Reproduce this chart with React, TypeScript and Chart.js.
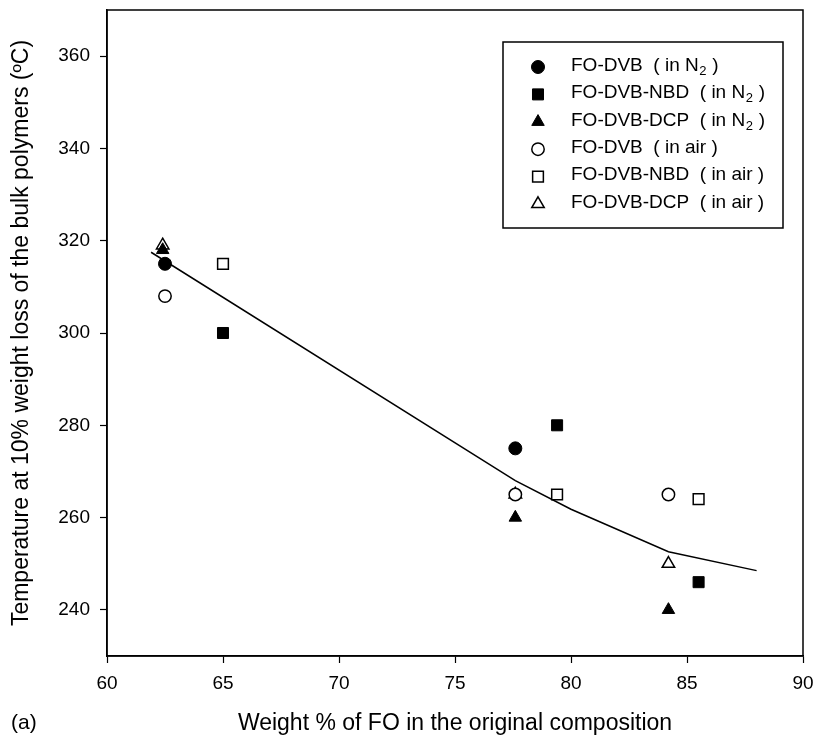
import React, { useEffect, useRef } from 'react';
import { Chart, registerables } from 'chart.js';

Chart.register(...registerables);

// ---- data ----
const xTicks = [60, 65, 70, 75, 80, 85, 90];
const yTicks = [240, 260, 280, 300, 320, 340, 360];
const xMin = 60;
const xMax = 90;
const yMin = 230;
const yMax = 370;

const xTitle = 'Weight % of FO in the original composition';
const yTitle = 'Temperature at 10% weight loss of the bulk polymers (\u00BAC)';
const panelLabel = '(a)';

const seriesLabels = [
  'FO-DVB  ( in N_2 )',
  'FO-DVB-NBD  ( in N_2 )',
  'FO-DVB-DCP  ( in N_2 )',
  'FO-DVB  ( in air )',
  'FO-DVB-NBD  ( in air )',
  'FO-DVB-DCP  ( in air )',
];

const n2DvbX = [62.5, 77.6];
const n2DvbY = [315, 275];
const n2NbdX = [65, 79.4, 85.5];
const n2NbdY = [300, 280, 246];
const n2DcpX = [62.4, 77.6, 84.2];
const n2DcpY = [318, 260, 240];
const airDvbX = [62.5, 77.6, 84.2];
const airDvbY = [308, 265, 265];
const airNbdX = [65, 79.4, 85.5];
const airNbdY = [315, 265, 264];
const airDcpX = [62.4, 77.6, 84.2];
const airDcpY = [319, 265, 250];

const fitX = [61.9, 77.6, 80, 84.2, 88];
const fitY = [317.5, 268, 261.8, 252.6, 248.5];

// ---- styles ----
const FONT = '"Liberation Sans", Arial, Helvetica, sans-serif';
const zip = (xs: number[], ys: number[]) => xs.map((x, i) => ({ x, y: ys[i] }));

const markerStyles = [
  { style: 'circle', fill: '#000', r: 6.5 },
  { style: 'rect', fill: '#000', r: 7.8 },
  { style: 'triangle', fill: '#000', r: 7.2 },
  { style: 'circle', fill: '#fff', r: 6.2 },
  { style: 'rect', fill: '#fff', r: 7.6 },
  { style: 'triangle', fill: '#fff', r: 7.2 },
];

function drawMarker(ctx: CanvasRenderingContext2D, style: string, x: number, y: number, r: number, fill: string) {
  ctx.beginPath();
  if (style === 'circle') {
    ctx.arc(x, y, r, 0, Math.PI * 2);
  } else if (style === 'rect') {
    const s = r * Math.SQRT1_2;
    ctx.rect(x - s, y - s, 2 * s, 2 * s);
  } else {
    let rad = 0;
    ctx.moveTo(x + Math.sin(rad) * r, y - Math.cos(rad) * r);
    rad += (2 * Math.PI) / 3;
    ctx.lineTo(x + Math.sin(rad) * r, y - Math.cos(rad) * r);
    rad += (2 * Math.PI) / 3;
    ctx.lineTo(x + Math.sin(rad) * r, y - Math.cos(rad) * r);
    ctx.closePath();
  }
  ctx.fillStyle = fill;
  ctx.fill();
  ctx.lineWidth = fill === '#000' ? 1 : 1.5;
  ctx.strokeStyle = '#000';
  ctx.stroke();
}

const framePlugin = {
  id: 'frameAndLegend',
  afterDraw(chart: any) {
    const { ctx, chartArea: a } = chart;
    ctx.save();
    ctx.strokeStyle = '#000';
    ctx.lineWidth = 1.5;
    ctx.strokeRect(a.left, a.top, a.right - a.left, a.bottom - a.top);

    // legend box
    const bw = 280;
    const bh = 186;
    const bx = a.right - 20 - bw;
    const by = a.top + 32;
    ctx.lineWidth = 1.5;
    ctx.strokeRect(bx, by, bw, bh);

    const mainFont = `19px ${FONT}`;
    const subFont = `13px ${FONT}`;
    ctx.textBaseline = 'middle';
    ctx.textAlign = 'left';
    seriesLabels.forEach((label, i) => {
      const y = by + 23.5 + i * 27.4;
      const m = markerStyles[i];
      drawMarker(ctx, m.style, bx + 35, y + 1.5, m.r, m.fill);
      let x = bx + 68;
      ctx.fillStyle = '#000';
      const idx = label.indexOf('_');
      if (idx < 0) {
        ctx.font = mainFont;
        ctx.fillText(label, x, y);
      } else {
        const before = label.slice(0, idx);
        const sub = label.charAt(idx + 1);
        const after = label.slice(idx + 2);
        ctx.font = mainFont;
        ctx.fillText(before, x, y);
        x += ctx.measureText(before).width;
        ctx.font = subFont;
        ctx.fillText(sub, x + 0.5, y + 6);
        x += ctx.measureText(sub).width + 1;
        ctx.font = mainFont;
        ctx.fillText(after, x, y);
      }
    });

    // panel label
    ctx.font = `21px ${FONT}`;
    ctx.fillStyle = '#000';
    ctx.textBaseline = 'middle';
    ctx.fillText(panelLabel, 11, 723);
    ctx.restore();
  },
};

export default function App() {
  const ref = useRef<HTMLCanvasElement | null>(null);

  useEffect(() => {
    if (!ref.current) return;
    const datasets: any[] = [
      [n2DvbX, n2DvbY],
      [n2NbdX, n2NbdY],
      [n2DcpX, n2DcpY],
      [airDvbX, airDvbY],
      [airNbdX, airNbdY],
      [airDcpX, airDcpY],
    ].map(([xs, ys], i) => ({
      label: seriesLabels[i].replace('_2', '\u2082'),
      data: zip(xs, ys),
      pointStyle: markerStyles[i].style,
      pointRadius: markerStyles[i].r,
      pointHoverRadius: markerStyles[i].r,
      backgroundColor: markerStyles[i].fill,
      borderColor: '#000',
      pointBorderWidth: markerStyles[i].fill === '#000' ? 1 : 1.5,
      showLine: false,
      order: i,
    }));
    datasets.push({
      label: 'fit',
      data: zip(fitX, fitY),
      showLine: true,
      pointRadius: 0,
      borderColor: '#000',
      borderWidth: 1.5,
      tension: 0,
      fill: false,
      order: 10,
    });

    const tickFont = { family: FONT, size: 19 };
    const titleFont = { family: FONT, size: 23 };

    const chart = new Chart(ref.current, {
      type: 'scatter',
      data: { datasets },
      plugins: [framePlugin],
      options: {
        animation: false,
        responsive: false,
        devicePixelRatio: 1,
        layout: { padding: { top: 10, right: 12, bottom: 0, left: 0 } },
        plugins: { legend: { display: false }, tooltip: { enabled: false } },
        scales: {
          x: {
            type: 'linear',
            min: xMin,
            max: xMax,
            afterBuildTicks: (axis: any) => {
              axis.ticks = xTicks.map((v) => ({ value: v }));
            },
            afterFit: (axis: any) => {
              axis.height = 84;
              axis.paddingLeft = 0;
              axis.paddingRight = 0;
            },
            ticks: {
              color: '#000',
              font: tickFont,
              padding: 9,
              maxRotation: 0,
              autoSkip: false,
            },
            grid: {
              drawOnChartArea: false,
              drawTicks: true,
              tickLength: 7,
              tickColor: '#000',
              tickWidth: 1.2,
            },
            border: { display: true, color: '#000', width: 1.5 },
            title: {
              display: true,
              text: xTitle,
              color: '#000',
              font: titleFont,
              padding: { top: 0, bottom: 3 },
            },
          },
          y: {
            type: 'linear',
            min: yMin,
            max: yMax,
            afterBuildTicks: (axis: any) => {
              axis.ticks = yTicks.map((v) => ({ value: v }));
            },
            afterFit: (axis: any) => {
              axis.width = 107;
              axis.paddingTop = 0;
              axis.paddingBottom = 0;
            },
            ticks: {
              color: '#000',
              font: tickFont,
              padding: 10,
            },
            grid: {
              drawOnChartArea: false,
              drawTicks: true,
              tickLength: 7,
              tickColor: '#000',
              tickWidth: 1.2,
            },
            border: { display: true, color: '#000', width: 1.5 },
            title: {
              display: true,
              text: yTitle,
              color: '#000',
              font: titleFont,
              padding: { top: 8, bottom: 0 },
            },
          },
        },
      } as any,
    });
    return () => chart.destroy();
  }, []);

  return (
    <div style={{ position: 'absolute', left: 0, top: 0, width: 815, height: 740, background: '#fff' }}>
      <canvas ref={ref} width={815} height={740} style={{ display: 'block', width: 815, height: 740 }} />
    </div>
  );
}
